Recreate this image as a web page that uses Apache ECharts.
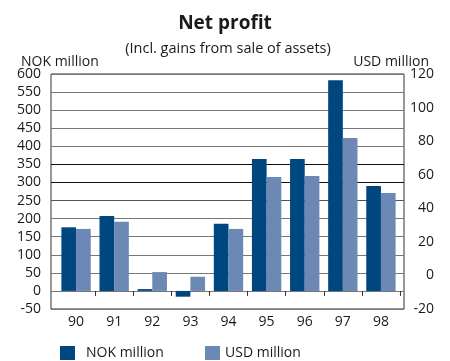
<!DOCTYPE html>
<html>
<head>
<meta charset="utf-8">
<script src="https://cdn.jsdelivr.net/npm/echarts@6/dist/echarts.min.js"></script>
<style>
  html, body { margin: 0; padding: 0; background: #fff; }
  #chart { width: 450px; height: 361px; }
</style>
</head>
<body>
<div id="chart"></div>
<script>
// Net profit 1990-98, NOK and USD million
const years = ['90', '91', '92', '93', '94', '95', '96', '97', '98'];
const nokMillion = [176, 207, 5, -16, 186, 365, 365, 583, 290];
const usdMillion = [27.7, 32, 2, -0.8, 27.7, 58.6, 59.2, 81.9, 49.1];

// Axis scales (left: NOK, right: USD)
const nokAxis = { min: -50, max: 600, step: 50 };
const usdAxis = { min: -20, max: 120, step: 20 };

const seriesNames = ['NOK million', 'USD million'];
const colors = ['#00467f', '#6c88b5'];
const font = '"Open Sans", "Noto Sans", sans-serif';
const textColor = '#1a1a1a';

// Both bar series stand on the NOK zero line. USD bars are measured on the
// right-hand scale, so their hidden axis is shifted to put its zero there.
const nokZeroShare = (0 - nokAxis.min) / (nokAxis.max - nokAxis.min);
const usdAtBaseline = usdAxis.min + nokZeroShare * (usdAxis.max - usdAxis.min);
const usdFromBaseline = usdMillion.map(v => v - usdAtBaseline);

// Split line shades, bottom to top
const gridShades = ['#777', '#777', '#777', '#777', '#777', '#777', '#555',
                    '#111', '#111', '#777', '#777', '#777', '#777', '#777'];

const chart = echarts.init(document.getElementById('chart'), null, { renderer: 'canvas' });

chart.setOption({
  animation: false,
  backgroundColor: '#fff',
  textStyle: { fontFamily: font, color: textColor },
  title: [
    { text: 'Net profit', left: 'center', top: 9,
      textStyle: { fontFamily: font, fontSize: 19, fontWeight: 'bold', color: textColor } },
    { text: '(Incl. gains from sale of assets)', left: 223, top: 36,
      textAlign: 'center',
      textStyle: { fontFamily: font, fontSize: 14.5, fontWeight: 'normal', color: textColor } },
    { text: 'NOK million', left: 16, top: 50,
      textStyle: { fontFamily: font, fontSize: 14, fontWeight: 'normal', color: textColor } },
    { text: 'USD million', right: 16, top: 50,
      textStyle: { fontFamily: font, fontSize: 14, fontWeight: 'normal', color: textColor } }
  ],
  legend: [
    { data: [seriesNames[0]], left: 60, top: 346, padding: 0,
      icon: 'rect', itemWidth: 15, itemHeight: 14, selectedMode: false,
      textStyle: { fontFamily: font, fontSize: 14, color: textColor, padding: [0, 0, 0, 6] } },
    { data: [seriesNames[1]], left: 205, top: 346, padding: 0,
      icon: 'rect', itemWidth: 15, itemHeight: 14, selectedMode: false,
      textStyle: { fontFamily: font, fontSize: 14, color: textColor } }
  ],
  grid: [
    // framed plot area carrying the scales and grid lines
    { left: 51, right: 46, top: 74, bottom: 52, show: true,
      borderColor: '#333', borderWidth: 1, backgroundColor: 'transparent' },
    // bar area, inset slightly from the frame
    { left: 57, right: 50, top: 74, bottom: 52 }
  ],
  xAxis: [
    { gridIndex: 0, type: 'value', min: 0, max: 1, show: false },
    { gridIndex: 1, type: 'category', data: years,
      axisLine: { show: false },
      axisTick: { show: true, length: 5, interval: (i) => i > 0,
                  lineStyle: { color: '#333', width: 1 } },
      axisLabel: { fontFamily: font, fontSize: 14, color: textColor, margin: 6 },
      splitLine: { show: false } }
  ],
  yAxis: [
    { gridIndex: 0, type: 'value', position: 'left',
      min: nokAxis.min, max: nokAxis.max, interval: nokAxis.step,
      axisLine: { show: false }, axisTick: { show: false },
      axisLabel: { fontFamily: font, fontSize: 14, color: textColor, margin: 10 },
      splitLine: { show: true, lineStyle: { color: gridShades, width: 1 } } },
    { gridIndex: 0, type: 'value', position: 'right',
      min: usdAxis.min, max: usdAxis.max, interval: usdAxis.step,
      axisLine: { show: false }, axisTick: { show: false },
      axisLabel: { fontFamily: font, fontSize: 14, color: textColor, margin: 30, align: 'right' },
      splitLine: { show: false } },
    { gridIndex: 1, type: 'value', min: nokAxis.min, max: nokAxis.max, show: false,
      splitLine: { show: false } },
    { gridIndex: 1, type: 'value',
      min: usdAxis.min - usdAtBaseline, max: usdAxis.max - usdAtBaseline, show: false,
      splitLine: { show: false } }
  ],
  series: [
    { name: seriesNames[0], type: 'bar', xAxisIndex: 1, yAxisIndex: 2,
      data: nokMillion, itemStyle: { color: colors[0] },
      barGap: '0%', barCategoryGap: '23%' },
    { name: seriesNames[1], type: 'bar', xAxisIndex: 1, yAxisIndex: 3,
      data: usdFromBaseline, itemStyle: { color: colors[1] },
      barGap: '0%', barCategoryGap: '23%' }
  ]
});
</script>
</body>
</html>
